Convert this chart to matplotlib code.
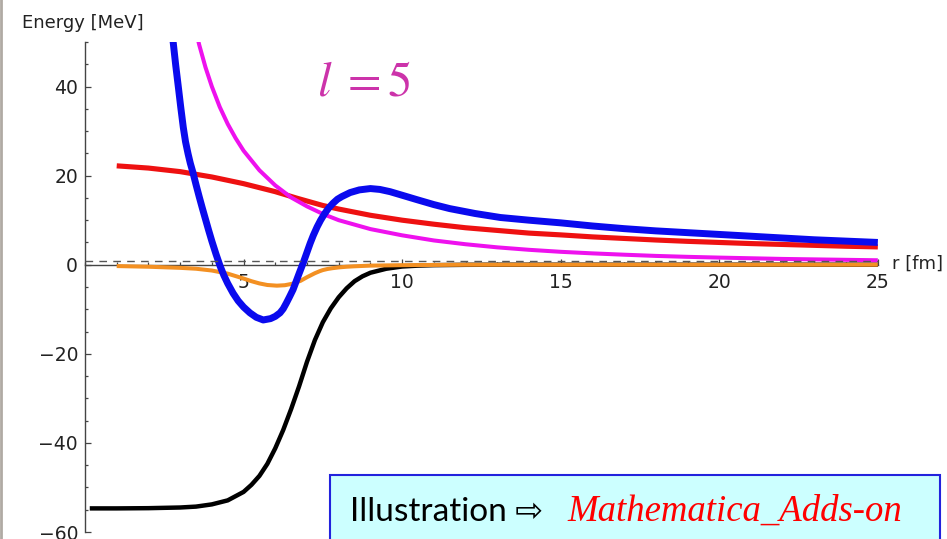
import matplotlib
matplotlib.use('Agg')
import matplotlib.pyplot as plt
from matplotlib.ticker import FixedLocator, MultipleLocator
from matplotlib.patches import Rectangle
from matplotlib.lines import Line2D

# nuclear (Woods-Saxon) potential
black_r = [0.15, 1, 2, 3, 3.5, 4, 4.5, 5, 5.25, 5.5, 5.75, 6, 6.25, 6.5, 6.75,
           7, 7.25, 7.5, 7.75, 8, 8.25, 8.5, 8.75, 9, 9.5, 10, 10.5, 11, 12, 13, 15, 20, 25]
black_v = [-54.7, -54.7, -54.65, -54.5, -54.3, -53.8, -52.9, -51.0, -49.4, -47.4, -44.7,
           -41.2, -37.1, -32.4, -27.3, -21.8, -16.9, -12.9, -9.8, -7.3, -5.3, -3.7, -2.6,
           -1.8, -0.9, -0.4, -0.2, -0.1, -0.02, 0, 0, 0, 0]

# Coulomb
red_r = [1, 2, 3, 4, 5, 6, 6.7, 7, 7.5, 8, 8.5, 9, 10, 11, 12, 13, 14, 15, 16, 17, 18,
         19, 20, 21, 22, 23, 24, 25]
red_v = [22.2, 21.7, 20.9, 19.7, 18.2, 16.4, 14.9, 14.3, 13.3, 12.5, 11.8, 11.1, 10.0,
         9.1, 8.3, 7.7, 7.1, 6.7, 6.25, 5.9, 5.55, 5.25, 5.0, 4.75, 4.55, 4.35, 4.15, 4.0]

# centrifugal, l = 5
mag_r = [3.4, 3.6, 3.8, 4.0, 4.25, 4.5, 4.75, 5, 5.5, 6, 6.5, 7, 7.5, 8, 9, 10, 11, 12,
         13, 14, 15, 16, 17, 18, 19, 20, 21, 22, 23, 24, 25]
mag_v = [55.4, 49.4, 44.3, 40.0, 35.4, 31.6, 28.4, 25.6, 21.2, 17.8, 15.1, 13.1, 11.4,
         10.0, 8.0, 6.6, 5.45, 4.6, 3.9, 3.35, 2.9, 2.55, 2.25, 1.98, 1.77, 1.6, 1.45,
         1.3, 1.2, 1.1, 1.0]

# spin-orbit
orange_r = [1, 2, 3, 3.5, 4, 4.5, 5, 5.25, 5.5, 5.75, 6.05, 6.3, 6.55, 6.8, 7, 7.25,
            7.4, 7.5, 7.65, 7.8, 8, 8.25, 8.5, 9, 10, 11, 12, 25]
orange_v = [-0.3, -0.45, -0.7, -0.9, -1.3, -2.0, -3.1, -3.7, -4.2, -4.55, -4.7, -4.6,
            -4.25, -3.6, -2.8, -1.9, -1.45, -1.2, -0.95, -0.78, -0.6, -0.45, -0.35,
            -0.2, -0.1, -0.05, 0.0, 0.0]

# total effective potential
blue_r = [2.7, 2.78, 2.86, 2.95, 3.02, 3.1, 3.17, 3.25, 3.32, 3.4, 3.5, 3.6, 3.7, 3.8,
          3.9, 4.0, 4.13, 4.26, 4.38, 4.5, 4.67, 4.83, 5.0, 5.2, 5.4, 5.62, 5.85, 6.0,
          6.15, 6.25, 6.35, 6.45, 6.56, 6.65, 6.75, 6.88, 7.0, 7.1, 7.2, 7.32, 7.43,
          7.55, 7.68, 7.82, 7.96, 8.1, 8.36, 8.65, 9.0, 9.3, 9.62, 10.0, 10.47, 11.0,
          11.5, 12.3, 13.1, 14, 15, 16, 17, 18, 19, 20, 21, 22, 23, 24, 25]
blue_v = [53.0, 50.0, 44.8, 39.5, 35.3, 30.8, 27.6, 24.9, 22.8, 20.8, 18.0, 15.3, 12.7,
          10.2, 7.7, 5.3, 2.4, -0.3, -2.4, -4.2, -6.4, -8.1, -9.5, -10.8, -11.8, -12.4,
          -12.1, -11.6, -10.8, -9.9, -8.6, -7.2, -5.6, -3.9, -2.0, 0.4, 2.8, 4.8, 6.6,
          8.5, 10.0, 11.4, 12.7, 13.8, 14.7, 15.3, 16.2, 16.8, 17.1, 16.9, 16.4, 15.6,
          14.6, 13.5, 12.6, 11.5, 10.6, 10.0, 9.4, 8.7, 8.1, 7.6, 7.2, 6.8, 6.4, 6.0,
          5.6, 5.3, 5.0]

energy = 0.9
x_major = [5, 10, 15, 20, 25]
y_major = [-60, -40, -20, 0, 20, 40]

plt.rcParams['mathtext.fontset'] = 'stix'
plt.rcParams['font.family'] = ['DejaVu Sans']

W, H = 947, 539
fig = plt.figure(figsize=(W / 100, H / 100), dpi=100)
ax = fig.add_axes([85 / W, 7 / H, 796 / W, 490 / H])
ax.set_xlim(0, 25.1)
ax.set_ylim(-60, 50)

kw = dict(solid_capstyle='butt', solid_joinstyle='round', zorder=3)
ax.plot(black_r, black_v, color='black', lw=3.2, **kw)
ax.plot(red_r, red_v, color='#EE1111', lw=3.7, **kw)
ax.plot(mag_r, mag_v, color='#EE11EE', lw=2.9, **kw)
ax.plot(orange_r, orange_v, color='#F39022', lw=2.9, **kw)
ax.plot(blue_r, blue_v, color='#0A0AEE', lw=5.0, **kw)
ax.plot([0, 25], [energy, energy], color='#555555', lw=1.0,
        dashes=(5.5, 4.5), zorder=5)

for s in ['top', 'right']:
    ax.spines[s].set_visible(False)
ax.spines['left'].set_position(('data', 0))
ax.spines['bottom'].set_position(('data', 0))
ax.spines['bottom'].set_bounds(0, 25)
for s in ['left', 'bottom']:
    ax.spines[s].set_color('#444444')
    ax.spines[s].set_linewidth(1.0)

ax.xaxis.set_major_locator(FixedLocator(x_major))
ax.xaxis.set_minor_locator(MultipleLocator(1))
ax.yaxis.set_major_locator(FixedLocator(y_major))
ax.yaxis.set_minor_locator(MultipleLocator(5))
ax.tick_params(which='both', direction='in', color='#444444', width=0.9,
               labelsize=13.5, labelcolor='#222222')
ax.tick_params(which='major', length=4.5)
ax.tick_params(which='minor', length=2.5)
ax.tick_params(axis='x', pad=6)
ax.tick_params(axis='y', pad=5)

ax.text(25.45, 0.3, 'r [fm]', ha='left', va='center', fontsize=13,
        color='#222222', clip_on=False)
fig.text(22 / W, 1 - 23 / H, 'Energy [MeV]', ha='left', va='center',
         fontsize=13, color='#222222')
fig.text(317 / W, 1 - 95 / H, r'$l\;=5$', ha='left', va='baseline',
         fontsize=35, color='#CC33AA')

# note box at the bottom
fig.add_artist(Rectangle((330 / W, -0.05), 610 / W, 0.05 + 64 / H,
                         transform=fig.transFigure, facecolor='#CCFFFF',
                         edgecolor='#2222DD', lw=1.5, clip_on=False))
fig.text(350 / W, 1 - 521 / H, 'Illustration \u21e8', ha='left', va='baseline',
         fontsize=24, family=['Lato', 'DejaVu Sans'], color='black')
fig.text(567 / W, 1 - 521 / H, 'Mathematica_Adds-on', ha='left', va='baseline',
         fontsize=26.5, family='Liberation Serif', style='italic', color='red')

fig.add_artist(Line2D([1 / W, 1 / W], [0, 1], transform=fig.transFigure,
                      color='#B0AAA4', lw=2))

fig.savefig('out.png', dpi=100)
